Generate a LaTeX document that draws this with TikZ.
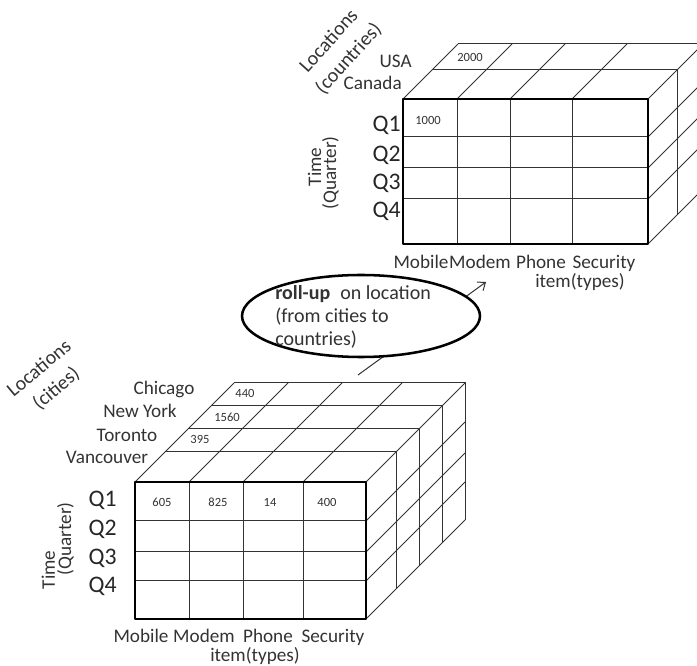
\documentclass[tikz,border=0pt]{standalone}
\usepackage{fontspec}
\usepackage{tikz, tkz-euclide}
\usetikzlibrary{shapes.geometric, arrows.meta}
\setmainfont{Carlito}

\begin{document}
\begin{tikzpicture}[x=0.75pt, y=-0.75pt,
    grid/.style={black!80, line width=0.75pt},
    lbl/.style={text=black!80, font=\fontsize{14.4}{17.5}\selectfont, inner sep=0pt},
    qlbl/.style={text=black!85, font=\fontsize{17.8}{20}\selectfont, inner sep=0pt},
    num/.style={text=black!80, font=\fontsize{9.4}{11}\selectfont, inner sep=0pt}]
    \useasboundingbox (0,0) rectangle (697,666);

    % upper cube, locations rolled up to countries
    \foreach \d in {29,55} {
        \draw[grid] (403+\d,99-\d) -- (648+\d,99-\d) -- (648+\d,244-\d);
    }
    \foreach \x in {403,457,510,572,648} \draw[grid] (\x,99) -- ++(55,-55);
    \foreach \y in {137,168,199,244} \draw[grid] (648,\y) -- ++(55,-55);
    \foreach \x in {457,510,572} \draw[grid] (\x,99) -- (\x,244);
    \foreach \y in {137,168,199} \draw[grid] (403,\y) -- (648,\y);
    \tkzDefPoints{403/99/TA, 648/99/TB, 648/244/TC, 403/244/TD}
    \tkzDrawPolygon[line width=1.9pt](TA,TB,TC,TD)

    \node[lbl, rotate=48, align=center, font=\fontsize{15}{20}\selectfont] (locT) at (339,50) {Locations\\(countries)};
    \node[lbl, anchor=base east] (usa) at (412,68) {USA};
    \node[lbl, anchor=base east] (canada) at (402,90) {Canada};
    \node[num, anchor=base] (n2000) at (470,62) {2000};
    \node[num, anchor=base] (n1000) at (428,125) {1000};
    \foreach \q/\y in {1/132,2/162,3/190,4/218}
        \node[qlbl, anchor=base east] (qT\q) at (401,\y) {Q\q};
    \node[lbl, rotate=90, anchor=base] (timeT) at (321,167) {Time};
    \node[lbl, rotate=90, anchor=base] (quarterT) at (336,173) {(Quarter)};
    \foreach \n/\x in {Mobile/421,Modem/480,Phone/541,Security/604}
        \node[lbl, anchor=base] (T-\n) at (\x,269) {\n};
    \node[lbl, anchor=base] (itemT) at (580,288) {item(types)};

    % roll-up arrow and ellipse
    \coordinate (rollfrom) at (358,375);
    \coordinate (rollto) at (486,282);
    \draw[grid, -{Straight Barb[length=5pt, width=8pt]}] (rollfrom) -- (rollto);
    \node[ellipse, draw, line width=1.9pt, fill=white, minimum width=178.5pt,
        minimum height=61.5pt] (rollup) at (361,316) {};
    \node[lbl, align=left, anchor=north west, font=\fontsize{15}{17.5}\selectfont] (rolltext) at (275,285)
        {\textbf{roll-up}\enspace on location\\(from cities to\\countries)};

    % lower cube, locations as cities
    \foreach \d in {30,53,76,99} {
        \draw[grid] (135+\d,482-\d) -- (366+\d,482-\d) -- (366+\d,619-\d);
    }
    \foreach \x in {135,189,243,303,366} \draw[grid] (\x,482) -- ++(99,-99);
    \foreach \y in {521,552,581,619} \draw[grid] (366,\y) -- ++(99,-99);
    \foreach \x in {189,243,303} \draw[grid] (\x,482) -- (\x,619);
    \foreach \y in {521,552,581} \draw[grid] (135,\y) -- (366,\y);
    \tkzDefPoints{135/482/BA, 366/482/BB, 366/619/BC, 135/619/BD}
    \tkzDrawPolygon[line width=1.9pt](BA,BB,BC,BD)

    \node[lbl, rotate=40, align=center, font=\fontsize{15}{20}\selectfont] (locB) at (48,379) {Locations\\(cities)};
    \node[lbl, anchor=base] (chicago) at (164,395) {Chicago};
    \node[lbl, anchor=base] (newyork) at (140,418) {New York};
    \node[lbl, anchor=base] (toronto) at (127,442) {Toronto};
    \node[lbl, anchor=base] (vancouver) at (107,464) {Vancouver};
    \node[num, anchor=base] (n440) at (245,398) {440};
    \node[num, anchor=base] (n1560) at (227,422) {1560};
    \node[num, anchor=base] (n395) at (200,444) {395};
    \foreach \v/\x in {605/162,825/218,14/270,400/327}
        \node[num, anchor=base] (n\v) at (\x,507) {\v};
    \foreach \q/\y in {1/507,2/536,3/565,4/593}
        \node[qlbl, anchor=base east] (qB\q) at (117,\y) {Q\q};
    \node[lbl, rotate=90, anchor=base] (timeB) at (55,570) {Time};
    \node[lbl, rotate=90, anchor=base] (quarterB) at (71,539) {(Quarter)};
    \foreach \n/\x in {Mobile/141,Modem/204,Phone/268,Security/333}
        \node[lbl, anchor=base] (B-\n) at (\x,643) {\n};
    \node[lbl, anchor=base] (itemB) at (255,662) {item(types)};
\end{tikzpicture}
\end{document}
